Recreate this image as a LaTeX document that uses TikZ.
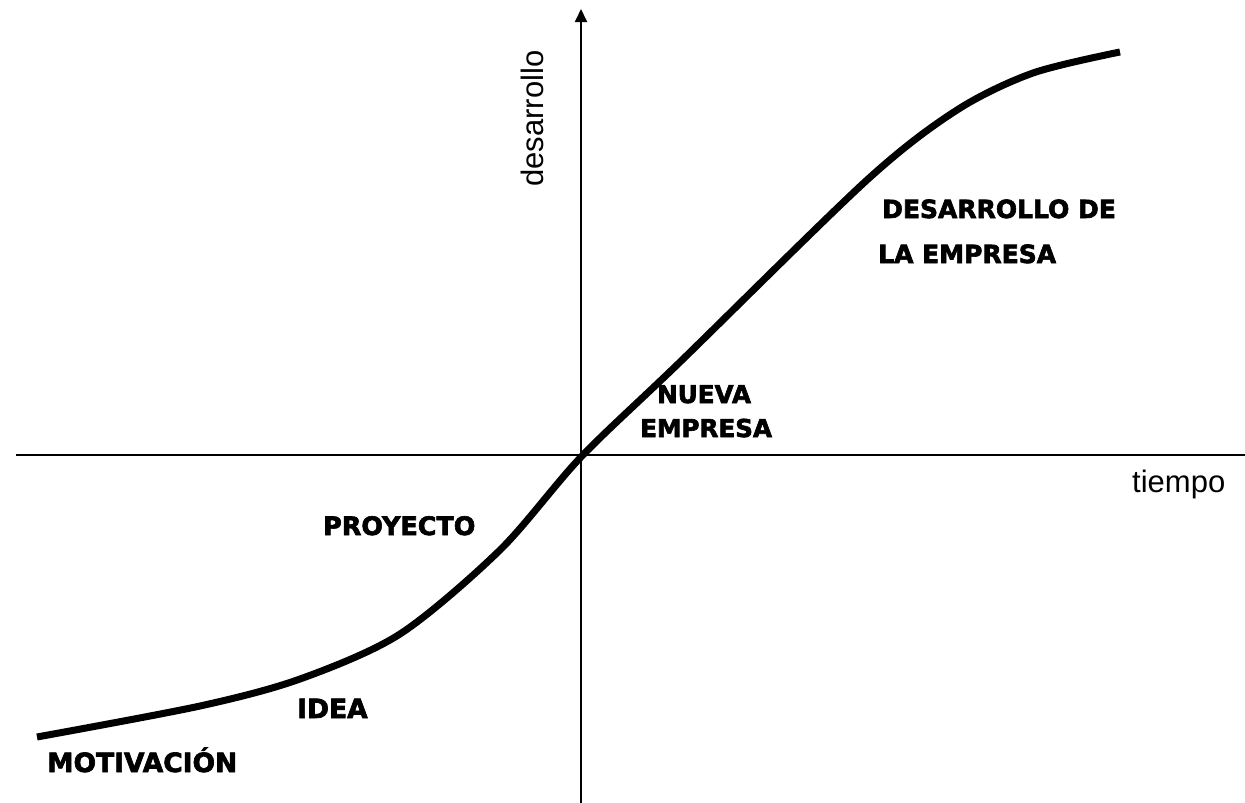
\documentclass[tikz,border=0pt]{standalone}
\usepackage{fontspec}
\setmainfont{Liberation Sans}
\newfontfamily\lblfont{DejaVu Sans}[BoldFeatures={FakeBold=2.5}]
\usetikzlibrary{arrows.meta}
\tikzset{
  axis/.style={line width=1.8pt, black},
  curveline/.style={line width=7pt, black},
  lbl/.style={inner sep=0pt, anchor=base west, font=\lblfont\bfseries},
  axlbl/.style={inner sep=0pt, anchor=base west, font=\fontsize{31}{34}\selectfont},
}
\begin{document}
\begin{tikzpicture}[x=1pt,y=-1pt]
\useasboundingbox (0,0) rectangle (1245,803);
\coordinate (ybot) at (581,803);
\coordinate (ytop) at (581,9);
\coordinate (xl) at (16,455);
\coordinate (xr) at (1245,455);
\draw[axis] (xl) -- (xr);
\draw[axis,-{Triangle[width=12pt,length=13pt]}] (ybot) -- (ytop);
\draw[curveline] plot[smooth,tension=0.5] coordinates {(37,737) (200,706) (300,679) (400,634) (500,550) (581,457) (680,362) (867,180) (957,110) (1033,73) (1120,52)};
\node[lbl,font=\lblfont\bfseries\fontsize{26.5}{30}\selectfont] (motiv) at (47,772) {MOTIVACIÓN};
\node[lbl,font=\lblfont\bfseries\fontsize{26.5}{30}\selectfont] (idea) at (297,718) {IDEA};
\node[lbl,font=\lblfont\bfseries\fontsize{25.4}{30}\selectfont] (proy) at (323,535) {PROYECTO};
\node[lbl,font=\lblfont\bfseries\fontsize{24.6}{30}\selectfont] (nueva) at (657,403) {NUEVA};
\node[lbl,font=\lblfont\bfseries\fontsize{24.6}{30}\selectfont] (empresa) at (640,437) {EMPRESA};
\node[lbl,font=\lblfont\bfseries\fontsize{25}{30}\selectfont] (desde) at (882,218) {DESARROLLO DE};
\node[lbl,font=\lblfont\bfseries\fontsize{25}{30}\selectfont] (laemp) at (878,263) {LA EMPRESA};
\node[axlbl] (tiempo) at (1132,492) {tiempo};
\node[axlbl,rotate=90] (desarrollo) at (543,187) {desarrollo};
\end{tikzpicture}
\end{document}
